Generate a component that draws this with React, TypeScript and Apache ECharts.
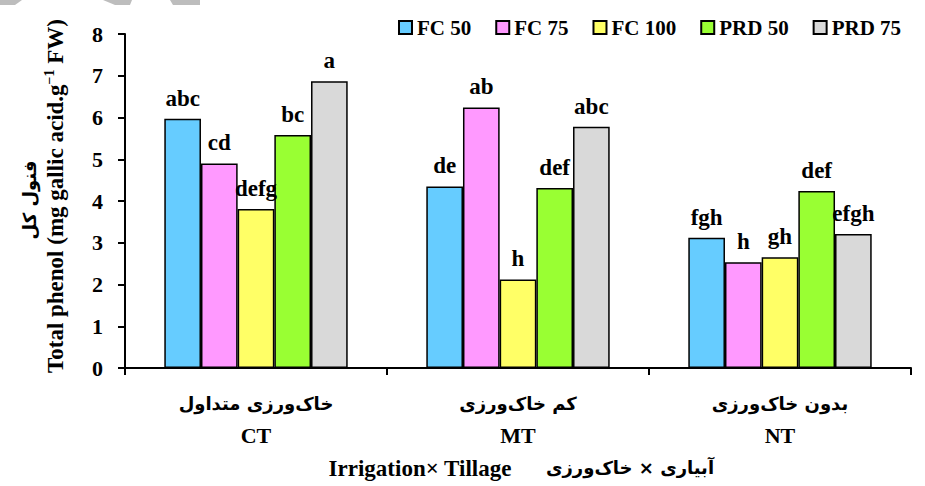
import React, { useEffect, useRef } from "react";
import * as echarts from "echarts";

const categoriesFa = ["خاک\u200cورزی متداول", "کم خاک\u200cورزی", "بدون خاک\u200cورزی"];
const categoriesEn = ["CT", "MT", "NT"];
const seriesNames = ["FC 50", "FC 75", "FC 100", "PRD 50", "PRD 75"];
const seriesColors = ["#66CCFF", "#FF99FF", "#FFFF66", "#99FF33", "#D9D9D9"];
const fc50 = [5.97, 4.35, 3.12];
const fc75 = [4.9, 6.24, 2.53];
const fc100 = [3.81, 2.12, 2.65];
const prd50 = [5.58, 4.31, 4.24];
const prd75 = [6.87, 5.78, 3.21];
const fc50Letters = ["abc", "de", "fgh"];
const fc75Letters = ["cd", "ab", "h"];
const fc100Letters = ["defg", "h", "gh"];
const prd50Letters = ["bc", "def", "def"];
const prd75Letters = ["a", "abc", "efgh"];
const yTicks = [0, 1, 2, 3, 4, 5, 6, 7, 8];

const SERIF = "'Liberation Serif', 'Times New Roman', serif";
const FA = "'DejaVu Sans', sans-serif";

export default function App() {
  const ref = useRef<HTMLDivElement>(null);
  useEffect(() => {
    document.body.style.margin = "0";
    if (!ref.current) return;
    const chart = echarts.init(ref.current, undefined, { renderer: "svg" });
    const values = [fc50, fc75, fc100, prd50, prd75];
    const letters = [fc50Letters, fc75Letters, fc100Letters, prd50Letters, prd75Letters];
    const series = values.map((v, i) => ({
      name: seriesNames[i],
      type: "bar",
      data: v,
      barGap: "0%",
      barCategoryGap: "30%",
      itemStyle: { color: seriesColors[i], borderColor: "#000", borderWidth: 1.5 },
      label: {
        show: true,
        position: "top",
        distance: 9,
        formatter: (p: any) => letters[i][p.dataIndex],
        fontFamily: SERIF,
        fontWeight: "bold",
        fontSize: 23,
        color: "#000",
      },
    }));
    chart.setOption({
      animation: false,
      backgroundColor: "#fff",
      grid: { left: 125, right: 14, top: 34, bottom: 118, containLabel: false },
      legend: {
        data: seriesNames,
        left: 393,
        top: 12,
        itemWidth: 13,
        itemHeight: 13,
        itemGap: 24,
        icon: "rect",
        textStyle: { fontFamily: SERIF, fontWeight: "bold", fontSize: 21, color: "#000" },
      },
      xAxis: {
        type: "category",
        data: categoriesEn.map((c, i) => categoriesFa[i] + "\n" + c),
        axisLine: { lineStyle: { color: "#000", width: 2 } },
        axisTick: { show: true, length: 7, lineStyle: { color: "#000", width: 2 } },
        axisLabel: {
          margin: 19,
          formatter: (v: string) => {
            const [fa, en] = v.split("\n");
            return "{fa|" + fa + "}\n{en|" + en + "}";
          },
          rich: {
            fa: { fontFamily: FA, fontWeight: "bold", fontSize: 18, lineHeight: 32, color: "#000" },
            en: { fontFamily: SERIF, fontWeight: "bold", fontSize: 22, lineHeight: 32, color: "#000" },
          },
        },
      },
      yAxis: {
        type: "value",
        min: yTicks[0],
        max: yTicks[yTicks.length - 1],
        interval: 1,
        axisLine: { show: true, lineStyle: { color: "#000", width: 2 } },
        axisTick: { show: true, length: 7, lineStyle: { color: "#000", width: 2 } },
        splitLine: { show: false },
        axisLabel: {
          margin: 22,
          fontFamily: SERIF,
          fontWeight: "bold",
          fontSize: 22,
          color: "#000",
        },
      },
      series,
      graphic: [
        { type: "polygon", shape: { points: [[0, 0], [22, 0], [15, 5], [0, 5]] }, style: { fill: "#bdbdbd" } },
        { type: "polygon", shape: { points: [[103, 0], [132, 0], [130, 5], [115, 5]] }, style: { fill: "#bdbdbd" } },
        { type: "polygon", shape: { points: [[170, 0], [200, 0], [200, 5], [173, 5]] }, style: { fill: "#bdbdbd" } },
        {
          type: "text",
          x: 55,
          y: 196,
          rotation: Math.PI / 2,
          style: {
            text: "{t|Total phenol (mg gallic acid.g}{s|\u22121}{t| FW)}",
            align: "center",
            verticalAlign: "middle",
            textAlign: "center",
            textVerticalAlign: "middle",
            rich: {
              t: { fontFamily: SERIF, fontWeight: "bold", fontSize: 23, lineHeight: 26, fill: "#000" },
              s: { fontFamily: SERIF, fontWeight: "bold", fontSize: 14, lineHeight: 26, verticalAlign: "top", fill: "#000" },
            },
          },
        },
        {
          type: "text",
          x: 29,
          y: 200,
          rotation: Math.PI / 2,
          style: {
            text: "فنول کل",
            align: "center",
            verticalAlign: "middle",
            textAlign: "center",
            textVerticalAlign: "middle",
            fontFamily: FA,
            fontWeight: "bold",
            fontSize: 18,
            fill: "#000",
          },
        },
        {
          type: "text",
          x: 420,
          y: 468,
          style: {
            text: "Irrigation\u00d7 Tillage",
            align: "center",
            verticalAlign: "middle",
            textAlign: "center",
            textVerticalAlign: "middle",
            fontFamily: SERIF,
            fontWeight: "bold",
            fontSize: 23,
            fill: "#000",
          },
        },
        {
          type: "text",
          x: 630,
          y: 467,
          style: {
            text: "آبیاری × خاک\u200cورزی",
            align: "center",
            verticalAlign: "middle",
            textAlign: "center",
            textVerticalAlign: "middle",
            fontFamily: FA,
            fontWeight: "bold",
            fontSize: 18,
            fill: "#000",
          },
        },
      ],
    });
    return () => chart.dispose();
  }, []);
  return <div ref={ref} style={{ width: 925, height: 486 }} />;
}
